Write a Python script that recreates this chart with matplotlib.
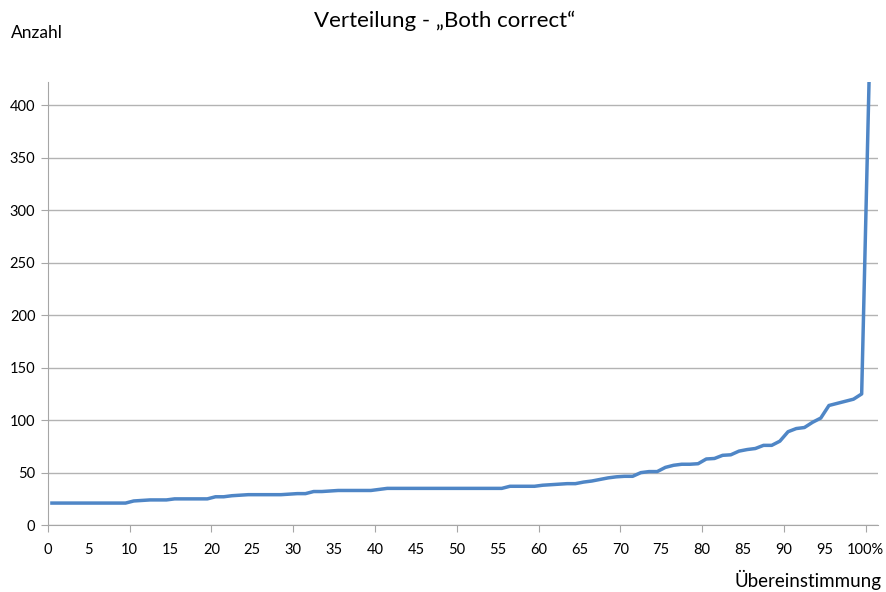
import numpy as np
import matplotlib
matplotlib.use("Agg")
import matplotlib.pyplot as plt

plt.rcParams['font.family'] = ['Lato', 'DejaVu Sans']

# Übereinstimmung in Prozent (Kategorien 0..100) und Anzahl
uebereinstimmung = np.arange(0, 101)
anzahl = [21, 21, 21, 21, 21, 21, 21, 21, 21, 21,
          23, 23.5, 24, 24, 24, 25, 25, 25, 25, 25,
          27, 27, 28, 28.5, 29, 29, 29, 29, 29, 29.5,
          30, 30, 32, 32, 32.5, 33, 33, 33, 33, 33,
          34, 35, 35, 35, 35, 35, 35, 35, 35, 35,
          35, 35, 35, 35, 35, 35, 37, 37, 37, 37,
          38, 38.5, 39, 39.5, 39.5, 41, 42, 43.5, 45, 46,
          46.5, 46.5, 50, 51, 51, 55, 57, 58, 58, 58.5,
          63, 63.5, 66.5, 67, 70.5, 72, 73, 76, 76, 80,
          89, 92, 93, 98, 102, 114, 116, 118, 120, 125,
          455]

major_ticks = list(range(0, 101, 10))
minor_ticks = list(range(5, 100, 10))
tick_labels = [str(t) for t in major_ticks[:-1]] + ["100%"]

fig = plt.figure(figsize=(8.86, 5.92), dpi=100)
ax = fig.add_axes([0.054, 0.113, 0.937, 0.748])

# Punkte liegen mittig in ihrer Kategorie
ax.plot(uebereinstimmung + 0.5, anzahl, color="#4F86C6", linewidth=2.5,
        solid_joinstyle="round", zorder=3)

ax.set_xlim(0, 101.5)
ax.set_ylim(0, 422)
ax.set_yticks(range(0, 401, 50))
ax.yaxis.grid(True, color="#B3B3B3", linewidth=1)
ax.set_axisbelow(True)

ax.set_xticks(major_ticks)
ax.set_xticklabels(tick_labels)
ax.set_xticks(minor_ticks, minor=True)
ax.set_xticklabels([str(t) for t in minor_ticks], minor=True)

for s in ["top", "right"]:
    ax.spines[s].set_visible(False)
for s in ["left", "bottom"]:
    ax.spines[s].set_color("#A6A6A6")

ax.tick_params(axis="x", which="major", length=5, color="#A6A6A6",
               labelsize=10.5, pad=8)
ax.tick_params(axis="x", which="minor", length=0, labelsize=10.5, pad=13)
ax.tick_params(axis="y", length=5, color="#A6A6A6", labelsize=10.5, pad=4)

fig.text(0.502, 0.965, "Verteilung - \u201eBoth correct\u201c", ha="center",
         va="center", fontsize=16)
fig.text(0.012, 0.945, "Anzahl", ha="left", va="center", fontsize=12.5)
fig.text(0.995, 0.02, "Übereinstimmung", ha="right", va="center", fontsize=13.5)

fig.savefig("out.png", dpi=100)
